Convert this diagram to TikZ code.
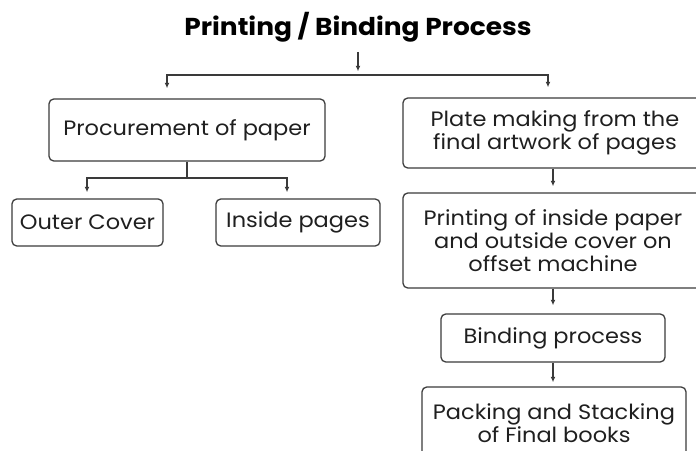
\documentclass[tikz,border=0pt]{standalone}
\usepackage{fontspec}
\setmainfont{Poppins}[FakeStretch=1.08]
\usetikzlibrary{positioning}
\usetikzlibrary{arrows.meta}
\definecolor{linegray}{HTML}{3A3A3A}
\tikzset{
    stepbox/.style = {rectangle, rounded corners=1.2mm, draw=linegray, line width=0.32mm, align=center, inner sep=0pt,
                      font=\fontsize{14.8}{16.2}\selectfont, text=black!88},
    titlenode/.style = {align=center, font=\fontsize{17.4}{20}\selectfont\bfseries, text=black},
    edgen/.style = {-{Latex[length=1.4mm,width=1.2mm]}, line width=0.3mm, draw=linegray},
    linen/.style = {line width=0.3mm, draw=linegray}
}
\begin{document}
\begin{tikzpicture}[x=0.25mm,y=-0.25mm]
\path[use as bounding box] (0,0) rectangle (696,451);
\clip (0,0) rectangle (696,451);
%
\node[titlenode] at (358,27) (title) {Printing / Binding Process};
%
\node[stepbox,minimum width=69mm,minimum height=15.5mm] at (187,130) (proc) {Procurement of paper};
\node[stepbox,minimum width=37.75mm,minimum height=11.75mm] at (87.5,222.5) (outer) {Outer Cover};
\node[stepbox,minimum width=41mm,minimum height=11.75mm] at (298,222.5) (inside) {Inside pages};
%
\node[stepbox,minimum width=76mm,minimum height=17.5mm] at (555,133) (plate) {Plate making from the\\final artwork of pages};
\node[stepbox,minimum width=75mm,minimum height=23.75mm] at (553,240.5) (print) {Printing of inside paper\\and outside cover on\\offset machine};
\node[stepbox,minimum width=56mm,minimum height=12mm] at (553,338) (bind) {Binding process};
\node[stepbox,minimum width=66mm,minimum height=18mm] at (554,423) (pack) {Packing and Stacking\\of Final books};
%
\coordinate (split) at (358,75);
\coordinate (psplit) at (187,178);
%
\draw[edgen,shorten <=1.2mm,shorten >=0.9mm] (title) -- (split);
\draw[edgen,shorten >=2.5mm] (split) -| ([xshift=-5mm]proc.north);
\draw[edgen,shorten >=2.5mm] (split) -| ([xshift=-1.75mm]plate.north);
%
\draw[linen] (proc.south) -- (psplit);
\draw[edgen,shorten >=1.5mm] (psplit) -| ([xshift=-0.125mm]outer.north);
\draw[edgen,shorten >=1.5mm] (psplit) -| ([xshift=-2.75mm]inside.north);
%
\draw[edgen,shorten >=1.5mm] (print.north |- plate.south) -- (print.north);
\draw[edgen,shorten >=2mm] (print) -- (bind);
\draw[edgen,shorten >=1mm] (bind) -- (bind |- pack.north);
\end{tikzpicture}
\end{document}
